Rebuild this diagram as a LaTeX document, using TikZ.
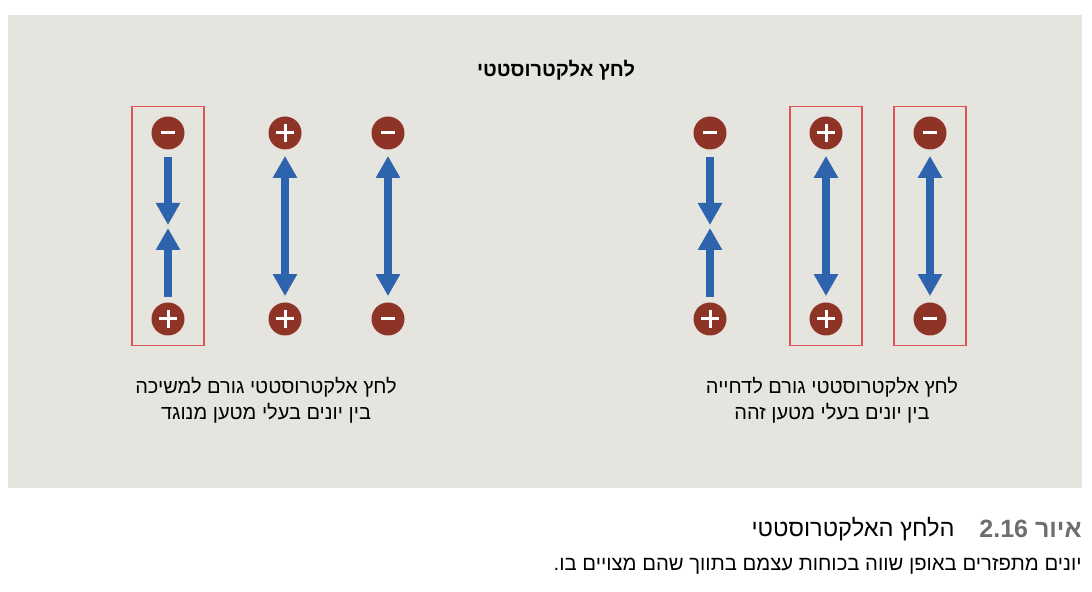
\documentclass[tikz,border=0pt]{standalone}
\usepackage{fontspec}
\setmainfont[Script=Hebrew]{Liberation Sans}
\TeXXeTstate=1
\usetikzlibrary{ arrows.meta, % For the thick triangle tips
                 fit,         % For the red frames round a pair of ions
               }
\definecolor{panelgrey}{HTML}{E6E4DF}
\definecolor{ionred}{HTML}{8E3426}
\definecolor{forceblue}{HTML}{2E64AE}
\definecolor{boxred}{HTML}{DD5555}
\definecolor{figgrey}{HTML}{6D6E71}
\tikzstyle{ion} = [circle, fill=ionred, minimum size=16.5pt, inner sep=0pt]
\tikzstyle{cation} = [ion, path picture={
    \draw [white, line width=1.5pt] (path picture bounding box.center) +(-4.3pt,0) -- +(4.3pt,0);
    \draw [white, line width=1.5pt] (path picture bounding box.center) +(0,-4.3pt) -- +(0,4.3pt);}]
\tikzstyle{anion} = [ion, path picture={
    \draw [white, line width=1.5pt] (path picture bounding box.center) +(-3.5pt,0) -- +(3.5pt,0);}]
\tikzstyle{force} = [draw=forceblue, line width=4pt, -{Triangle[length=11pt,width=11.5pt]}]
\tikzstyle{mutual} = [force, {Triangle[length=11pt,width=11.5pt]}-{Triangle[length=11pt,width=11.5pt]}, shorten <=3pt, shorten >=3pt]
\tikzstyle{pairbox} = [rectangle, draw=boxred, line width=0.8pt, inner xsep=9.5pt, inner ysep=4.8pt]
\tikzstyle{note} = [align=center, font=\fontsize{10}{13}\selectfont]

\begin{document}
\begin{tikzpicture}[x=0.5pt, y=-0.5pt]
  \useasboundingbox [fill=white] (0,0) rectangle (1092,592);
  \fill [panelgrey] (8,15) rectangle (1082,488);

  \node (title) [font=\bfseries\fontsize{10}{12}\selectfont] at (556,70) {\beginR לחץ אלקטרוסטטי\endR};

  % attraction: opposite charges
  \node (a1) [anion] at (168,133) {};
  \node (c1) [cation] at (168,319) {};
  \coordinate (m1) at (168,226.5);
  \draw [force, shorten <=3.5pt, shorten >=0.75pt] (a1) -- (m1);
  \draw [force, shorten <=2.5pt, shorten >=0.75pt] (c1) -- (m1);
  \node (att) [pairbox, fit={(a1) (c1)}] {};

  \node (c2) [cation] at (285,133) {};
  \node (c3) [cation] at (285,319) {};
  \draw [mutual] (c2) -- (c3);

  \node (a2) [anion] at (388,133) {};
  \node (a3) [anion] at (388,319) {};
  \draw [mutual] (a2) -- (a3);

  \node (leftnote) [note] at (266,400)
    {\beginR לחץ אלקטרוסטטי גורם למשיכה\endR\\\beginR בין יונים בעלי מטען מנוגד\endR};

  % repulsion: like charges
  \node (a4) [anion] at (710,133) {};
  \node (c4) [cation] at (710,319) {};
  \coordinate (m4) at (710,226.5);
  \draw [force, shorten <=3.5pt, shorten >=0.75pt] (a4) -- (m4);
  \draw [force, shorten <=2.5pt, shorten >=0.75pt] (c4) -- (m4);

  \node (c5) [cation] at (826,133) {};
  \node (c6) [cation] at (826,319) {};
  \draw [mutual] (c5) -- (c6);
  \node (rep1) [pairbox, fit={(c5) (c6)}] {};

  \node (a5) [anion] at (930,133) {};
  \node (a6) [anion] at (930,319) {};
  \draw [mutual] (a5) -- (a6);
  \node (rep2) [pairbox, fit={(a5) (a6)}] {};

  \node (rightnote) [note] at (832,400)
    {\beginR לחץ אלקטרוסטטי גורם לדחייה\endR\\\beginR בין יונים בעלי מטען זהה\endR};

  % figure caption
  \node (fignum) [anchor=east, inner sep=0pt, text=figgrey, font=\bfseries\fontsize{12.5}{14}\selectfont] at (1082,529)
    {\beginR איור \beginL 2.16\endL\endR};
  \node (figtitle) [anchor=east, inner sep=0pt, font=\fontsize{11.8}{14}\selectfont] at (955,529)
    {\beginR הלחץ האלקטרוסטטי\endR};
  \node (figtext) [anchor=east, inner sep=0pt, font=\fontsize{10.15}{12}\selectfont] at (1082,566)
    {\beginR יונים מתפזרים באופן שווה בכוחות עצמם בתווך שהם מצויים בו.\endR};
\end{tikzpicture}
\end{document}
